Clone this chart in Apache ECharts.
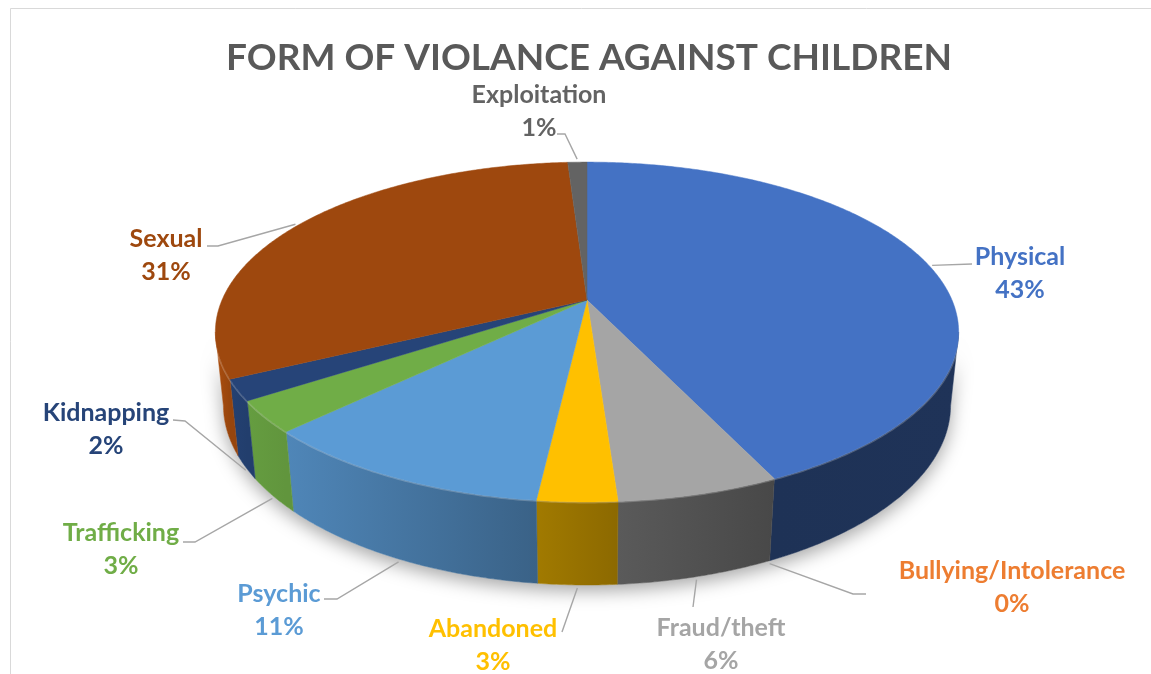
<!DOCTYPE html>
<html><head><meta charset="utf-8">
<script src="https://cdn.jsdelivr.net/npm/echarts@6/dist/echarts.min.js"></script>
<style>html,body{margin:0;padding:0;background:#fff}#c{width:1151px;height:674px}</style>
</head><body><div id="c"></div>
<script>
// ---- data ----
const chartTitle = 'FORM OF VIOLANCE AGAINST CHILDREN';
const categories = ['Physical','Bullying/Intolerance','Fraud/theft','Abandoned','Psychic','Trafficking','Kidnapping','Sexual','Exploitation'];
const shares = [43.0, 0, 5.9, 2.9, 10.9, 3.0, 2.0, 31.3, 1.0];

// ---- style / layout ----
const colors = ['#4472C4','#ED7D31','#A5A5A5','#FFC000','#5B9BD5','#70AD47','#264478','#9E480E','#636363'];
// label block centres and leader line bend points
const labelLayout = [
  {x:1020, y:273, bend:[[972,264]]},
  {x:1012, y:587, bend:[[853,594],[866,594]]},
  {x:721,  y:644, bend:[[693,607]]},
  {x:493,  y:645, bend:[[562,632]]},
  {x:279,  y:610, bend:[[337,599],[324,599]]},
  {x:121,  y:549, bend:[[195,542],[183,542]]},
  {x:106,  y:429, bend:[[185,421],[173,420]]},
  {x:166,  y:255, bend:[[218,246],[207,246]]},
  {x:539,  y:111, bend:[[565,134],[557,134]]}
];
// 3D view: centre, focal, distance, sin/cos of tilt, thickness
const V = {cx:587, cy:300, k:1730, D:4.74, s:0.449, c:0.893, h:0.2255};
const wallLight = [[100,0.45],[150,0.42],[170,0.5],[185,0.62],[200,0.75],[225,0.86],[240,0.92],[262,1.12]];

const total = shares.reduce((a,b)=>a+b,0);
const cum = []; shares.reduce((a,b,i)=>{cum[i]=a; return a+b;},0);

function proj(theta, y){
  const t = theta*Math.PI/180, u = Math.sin(t), v = Math.cos(t);
  const yc = v*V.s + y*V.c, z = V.D + v*V.c - y*V.s;
  return [V.cx + V.k*u/z, V.cy - V.k*yc/z];
}
function lightAt(th){
  for(let i=1;i<wallLight.length;i++){
    if(th<=wallLight[i][0]){
      const a=wallLight[i-1], b=wallLight[i], t=(th-a[0])/(b[0]-a[0]);
      return a[1]+(b[1]-a[1])*Math.max(0,Math.min(1,t));
    }
  }
  return wallLight[wallLight.length-1][1];
}
function shade(hex,f){
  const n=parseInt(hex.slice(1),16);
  const r=Math.min(255,Math.round((n>>16&255)*f)), g=Math.min(255,Math.round((n>>8&255)*f)), b=Math.min(255,Math.round((n&255)*f));
  return 'rgb('+r+','+g+','+b+')';
}
function arc(a,b,y){
  const pts=[]; const n=Math.max(2,Math.ceil((b-a)/0.5));
  for(let j=0;j<=n;j++) pts.push(proj(a+(b-a)*j/n,y));
  return pts;
}
const visA = Math.acos(-V.c/V.D)*180/Math.PI, visB = 360-visA;

function renderItem(params, api){
  const i = params.dataIndex;
  const val = api.value(0);
  const a = cum[i]/total*360, b = (cum[i]+val)/total*360;
  const children = [];
  if(i===0){
    const outline = arc(visA,visB,0).concat(arc(visA,visB,-V.h).reverse());
    children.push({type:'polygon', z2:0, shape:{points:outline},
      style:{fill:'#fff', shadowBlur:18, shadowColor:'rgba(0,0,0,0.35)', shadowOffsetY:6}});
  }
  if(val>0){
    // side wall
    const wa = Math.max(a,visA), wb = Math.min(b,visB);
    if(wb>wa){
      const top = arc(wa,wb,0), bot = arc(wa,wb,-V.h).reverse();
      const x0 = top[0][0], x1 = top[top.length-1][0];
      const grad = new echarts.graphic.LinearGradient(x0,0,x1===x0?x0+1:x1,0,[
        {offset:0,color:shade(colors[i],lightAt(wa))},
        {offset:1,color:shade(colors[i],lightAt(wb))}], true);
      children.push({type:'polygon', z2:1, shape:{points:top.concat(bot)},
        style:{fill:grad, stroke:grad, lineWidth:0.5}});
      children.push({type:'polyline', z2:2, shape:{points:top},
        style:{fill:null, stroke:'rgba(255,255,255,0.22)', lineWidth:3}});
    }
    // top face
    const face = [[V.cx, V.cy]].concat(arc(a,b,0));
    children.push({type:'polygon', z2:3, shape:{points:face},
      style:{fill:colors[i], stroke:colors[i], lineWidth:0.5}});
  }
  // label + leader
  const mid = (a+b)/2;
  let p0;
  if(mid>visA && mid<visB){ p0 = proj(mid,-V.h); p0=[p0[0],p0[1]+3]; }
  else { p0 = proj(mid,0); const dx=p0[0]-V.cx, dy=p0[1]-V.cy, L=Math.hypot(dx,dy); p0=[p0[0]+dx/L*3,p0[1]+dy/L*3]; }
  const L = labelLayout[i];
  children.push({type:'polyline', z2:5, shape:{points:[p0].concat(L.bend)},
    style:{fill:null, stroke:'#A6A6A6', lineWidth:1.4}});
  const pct = Math.round(val/total*100);
  children.push({type:'text', z2:6, style:{x:L.x, y:L.y, text:api.value(1)+'\n'+pct+'%',
    fill:colors[i], font:'bold 25px Lato', align:'center', verticalAlign:'middle', lineHeight:33}});
  return {type:'group', children};
}

const chart = echarts.init(document.getElementById('c'));
chart.setOption({
  animation:false,
  backgroundColor:'#fff',
  title:{text:chartTitle, left:584, textAlign:'center', top:35,
    textStyle:{fontFamily:'Lato', fontWeight:'bold', fontSize:37, color:'#595959'}},
  graphic:[{type:'rect', silent:true, z:-10, shape:{x:10.5,y:8.5,width:1200,height:700},
    style:{fill:'none', stroke:'#D9D9D9', lineWidth:1}}],
  series:[{type:'custom', coordinateSystem:'none', renderItem,
    data: shares.map((v,i)=>({name:categories[i], value:[v, categories[i]]})),
    dimensions:['share',{name:'cat',type:'ordinal'}]}]
});
</script></body></html>
